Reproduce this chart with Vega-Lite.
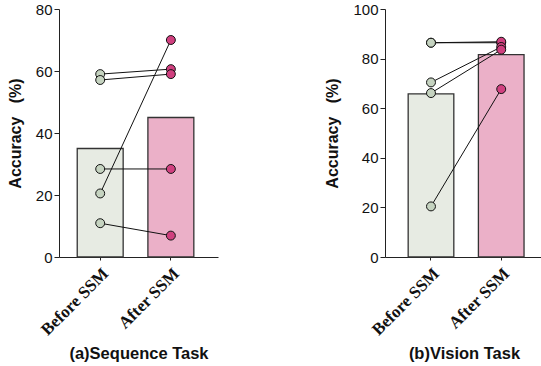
{
  "$schema": "https://vega.github.io/schema/vega-lite/v6.json",
  "padding": {"left": 7, "top": 2, "right": 0, "bottom": 0},
  "spacing": 106,
  "config": {
    "view": {"stroke": null},
    "axis": {"grid": false, "domainColor": "#222", "tickColor": "#222", "labelColor": "#111", "titleColor": "#111", "labelFont": "Liberation Sans", "titleFont": "Liberation Sans"}
  },
  "datasets": {
    "seqBars": [
      {"stage": "Before SSM", "value": 35},
      {"stage": "After SSM", "value": 45}
    ],
    "seqPts": [
      {"pair": 1, "stage": "Before SSM", "value": 59},
      {"pair": 1, "stage": "After SSM", "value": 60.6},
      {"pair": 2, "stage": "Before SSM", "value": 57.1},
      {"pair": 2, "stage": "After SSM", "value": 59},
      {"pair": 3, "stage": "Before SSM", "value": 28.4},
      {"pair": 3, "stage": "After SSM", "value": 28.4},
      {"pair": 4, "stage": "Before SSM", "value": 20.5},
      {"pair": 4, "stage": "After SSM", "value": 70},
      {"pair": 5, "stage": "Before SSM", "value": 10.9},
      {"pair": 5, "stage": "After SSM", "value": 6.9}
    ],
    "visBars": [
      {"stage": "Before SSM", "value": 65.8},
      {"stage": "After SSM", "value": 81.6}
    ],
    "visPts": [
      {"pair": 1, "stage": "Before SSM", "value": 86.4},
      {"pair": 1, "stage": "After SSM", "value": 86.4},
      {"pair": 2, "stage": "Before SSM", "value": 86.4},
      {"pair": 2, "stage": "After SSM", "value": 86.8},
      {"pair": 3, "stage": "Before SSM", "value": 70.4},
      {"pair": 3, "stage": "After SSM", "value": 84.7},
      {"pair": 4, "stage": "Before SSM", "value": 66.1},
      {"pair": 4, "stage": "After SSM", "value": 83.6},
      {"pair": 5, "stage": "Before SSM", "value": 20.4},
      {"pair": 5, "stage": "After SSM", "value": 67.7}
    ]
  },
  "hconcat": [
    {
      "width": 159,
      "height": 248,
      "resolve": {"scale": {"fill": "independent"}},
      "encoding": {
        "x": {
          "field": "stage", "type": "nominal", "sort": ["Before SSM", "After SSM"],
          "scale": {"paddingInner": 0.35, "paddingOuter": 0.3, "align": 0.43},
          "axis": {"title": "(a)Sequence Task", "titleFontSize": 16.5, "titleFontWeight": "bold", "titlePadding": 8,
                   "labelAngle": -45, "labelFont": "Liberation Serif", "labelFontWeight": "bold", "labelFontSize": 17,
                   "tickSize": 3, "labelPadding": 5}
        },
        "y": {
          "field": "value", "type": "quantitative",
          "scale": {"domain": [0, 80], "nice": false},
          "axis": {"title": "Accuracy\u00a0\u00a0\u00a0(%)", "titleFontSize": 16, "titleFontWeight": "bold", "titlePadding": 12,
                   "values": [0, 20, 40, 60, 80], "labelFontSize": 15, "tickSize": 5, "labelPadding": 2}
        }
      },
      "layer": [
        {
          "data": {"name": "seqBars"},
          "mark": {"type": "bar", "stroke": "#333", "strokeWidth": 1.3, "strokeOpacity": 1},
          "encoding": {
            "fill": {"field": "stage", "type": "nominal", "scale": {"domain": ["Before SSM", "After SSM"], "range": ["#e7ebe3", "#ebb0c8"]}, "legend": null}
          }
        },
        {
          "data": {"name": "seqPts"},
          "mark": {"type": "line", "color": "#111", "strokeWidth": 1},
          "encoding": {"detail": {"field": "pair", "type": "nominal"}}
        },
        {
          "data": {"name": "seqPts"},
          "mark": {"type": "point", "filled": true, "shape": "circle", "size": 80, "stroke": "#111", "strokeWidth": 1, "opacity": 1},
          "encoding": {
            "fill": {"field": "stage", "type": "nominal", "scale": {"domain": ["Before SSM", "After SSM"], "range": ["#c5d3c0", "#d0407f"]}, "legend": null}
          }
        }
      ]
    },
    {
      "width": 158,
      "height": 248,
      "resolve": {"scale": {"fill": "independent"}},
      "encoding": {
        "x": {
          "field": "stage", "type": "nominal", "sort": ["Before SSM", "After SSM"],
          "scale": {"paddingInner": 0.35, "paddingOuter": 0.3, "align": 0.55},
          "axis": {"title": "(b)Vision Task", "titleFontSize": 16.5, "titleFontWeight": "bold", "titlePadding": 8,
                   "labelAngle": -45, "labelFont": "Liberation Serif", "labelFontWeight": "bold", "labelFontSize": 17,
                   "tickSize": 3, "labelPadding": 5}
        },
        "y": {
          "field": "value", "type": "quantitative",
          "scale": {"domain": [0, 100], "nice": false},
          "axis": {"title": "Accuracy\u00a0\u00a0\u00a0(%)", "titleFontSize": 16, "titleFontWeight": "bold", "titlePadding": 12,
                   "values": [0, 20, 40, 60, 80, 100], "labelFontSize": 15, "tickSize": 5, "labelPadding": 2}
        }
      },
      "layer": [
        {
          "data": {"name": "visBars"},
          "mark": {"type": "bar", "stroke": "#333", "strokeWidth": 1.3, "strokeOpacity": 1},
          "encoding": {
            "fill": {"field": "stage", "type": "nominal", "scale": {"domain": ["Before SSM", "After SSM"], "range": ["#e7ebe3", "#ebb0c8"]}, "legend": null}
          }
        },
        {
          "data": {"name": "visPts"},
          "mark": {"type": "line", "color": "#111", "strokeWidth": 1},
          "encoding": {"detail": {"field": "pair", "type": "nominal"}}
        },
        {
          "data": {"name": "visPts"},
          "mark": {"type": "point", "filled": true, "shape": "circle", "size": 80, "stroke": "#111", "strokeWidth": 1, "opacity": 1},
          "encoding": {
            "fill": {"field": "stage", "type": "nominal", "scale": {"domain": ["Before SSM", "After SSM"], "range": ["#c5d3c0", "#d0407f"]}, "legend": null}
          }
        }
      ]
    }
  ]
}
